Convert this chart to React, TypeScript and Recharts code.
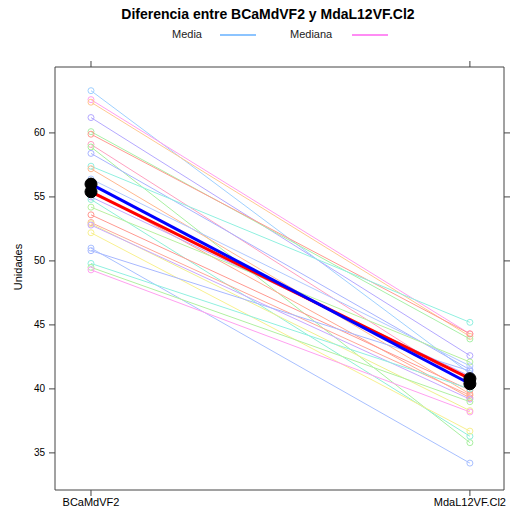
import { LineChart, Line, XAxis, YAxis } from 'recharts';

const categories = ['BCaMdVF2', 'MdaL12VF.Cl2'];
const yTicks = [35, 40, 45, 50, 55, 60];

// valores por sujeto: BCaMdVF2 -> MdaL12VF.Cl2
const before = [63.3, 62.6, 62.4, 61.2, 60.1, 59.9, 59.1, 58.9, 58.4, 57.4, 57.2, 56.4, 55.5, 55.0, 54.8, 54.2, 53.6, 53.0, 52.9, 52.8, 52.2, 51.0, 50.8, 49.8, 49.5, 49.3];
const after = [41.2, 44.3, 44.1, 42.6, 43.9, 44.3, 40.3, 35.8, 41.5, 45.2, 39.6, 41.8, 39.3, 41.0, 36.3, 42.1, 39.9, 39.5, 38.3, 39.2, 36.7, 34.2, 41.4, 40.0, 39.0, 38.2];
const lineColors = ['#9fd0ff', '#ff9ef0', '#ffc890', '#b4a8ff', '#a8f0a8', '#ff9a90', '#ffa0c0', '#a8f0a0', '#a8b4ff', '#90f0e0', '#ffb890', '#b0c8ff', '#ffa890', '#c0a8ff', '#90f0d8', '#b8f0a0', '#ff9890', '#ffa898', '#f0f090', '#c8a8ff', '#f8f090', '#a8c0ff', '#a8b8ff', '#90f0e0', '#b0f0a0', '#ffa0f0'];

const mean = [56.0, 40.4];
const median = [55.4, 40.8];

const data = categories.map((c, i) => {
  const row: Record<string, number | string> = { x: i + 1, name: c, media: mean[i], mediana: median[i] };
  before.forEach((_, k) => {
    row['s' + k] = i === 0 ? before[k] : after[k];
  });
  return row;
});

const font = '"Liberation Sans", Arial, sans-serif';
const tickStyle = { fill: '#000', fontSize: 10, fontFamily: font };

const bigDot = { r: 6, fill: '#000', stroke: '#000', strokeWidth: 1 };

export default function App() {
  return (
    <div style={{ position: 'absolute', left: 0, top: 0, width: 512, height: 514, background: '#fff', fontFamily: font }}>
      <div style={{ position: 'absolute', left: 0, width: 536, top: 6, textAlign: 'center', fontSize: 14, fontWeight: 'bold' }}>
        Diferencia entre BCaMdVF2 y MdaL12VF.Cl2
      </div>
      <div style={{ position: 'absolute', left: 172, top: 28, fontSize: 11, color: '#222' }}>Media</div>
      <div style={{ position: 'absolute', left: 220, top: 34, width: 36, height: 2, background: '#8cc4ff' }} />
      <div style={{ position: 'absolute', left: 290, top: 28, fontSize: 11, color: '#222' }}>Mediana</div>
      <div style={{ position: 'absolute', left: 352, top: 34, width: 36, height: 2, background: '#ff8cf4' }} />
      <div style={{ position: 'absolute', left: 18, top: 267, fontSize: 11, transform: 'translate(-50%, -50%) rotate(-90deg)', whiteSpace: 'nowrap' }}>
        Unidades
      </div>
      <LineChart width={512} height={514} data={data} margin={{ top: 59, right: 0, bottom: 0, left: 8 }}>
        <XAxis
          dataKey="x"
          type="number"
          domain={[0.905, 2.09]}
          ticks={[1, 2]}
          allowDataOverflow
          tickFormatter={(v) => categories[Number(v) - 1]}
          tick={{ ...tickStyle, fontSize: 11 }}
          tickSize={6}
          tickMargin={2}
          height={24}
          stroke="#444"
        />
        <XAxis
          xAxisId="top"
          dataKey="x"
          type="number"
          orientation="top"
          domain={[0.905, 2.09]}
          ticks={[1, 2]}
          allowDataOverflow
          tickFormatter={() => ''}
          tickSize={6}
          height={8}
          stroke="#444"
        />
        <YAxis
          type="number"
          domain={[32.1, 65.15]}
          ticks={yTicks}
          allowDataOverflow
          tick={tickStyle}
          tickSize={6}
          tickMargin={4}
          width={47}
          stroke="#444"
        />
        <YAxis
          yAxisId="right"
          type="number"
          orientation="right"
          domain={[32.1, 65.15]}
          ticks={yTicks}
          allowDataOverflow
          tickFormatter={() => ''}
          tickSize={6}
          width={8}
          stroke="#444"
        />
        {before.map((_, k) => (
          <Line
            key={k}
            dataKey={'s' + k}
            stroke={lineColors[k]}
            strokeWidth={1}
            dot={{ r: 3, fill: 'none', stroke: lineColors[k], strokeWidth: 1 }}
            activeDot={false}
            isAnimationActive={false}
          />
        ))}
        <Line dataKey="mediana" stroke="#ff0000" strokeWidth={3} dot={bigDot} activeDot={false} isAnimationActive={false} />
        <Line dataKey="media" stroke="#0000ff" strokeWidth={3} dot={bigDot} activeDot={false} isAnimationActive={false} />
      </LineChart>
    </div>
  );
}
